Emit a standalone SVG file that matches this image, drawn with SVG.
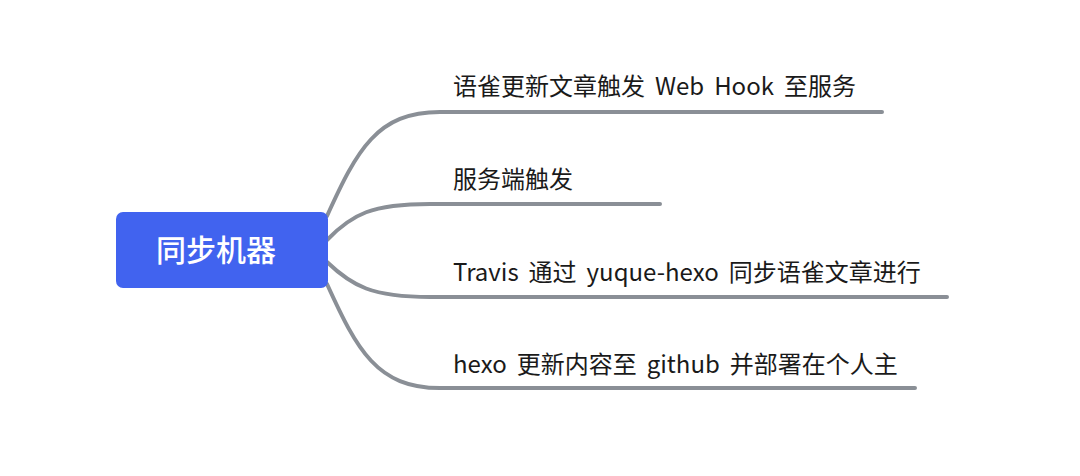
<svg xmlns="http://www.w3.org/2000/svg" width="1080" height="476" viewBox="0 0 1080 476">
<style>
.edge{fill:none;stroke:#8a8f96;stroke-width:4;stroke-linecap:round}
.lbl{font-family:"Noto Sans CJK SC","Noto Sans",sans-serif;font-size:24px;fill:#1a1a1a;font-weight:400;word-spacing:4.6px}
.root{font-family:"Noto Sans CJK SC",sans-serif;font-size:30px;fill:#ffffff;font-weight:500}
</style>
<rect width="1080" height="476" fill="#ffffff"/>
<g id="connectors">
<path class="edge" d="M327,216 C357,150 377,112 440,112 H882"/>
<path class="edge" d="M327,240 C352,214 372,204 430,204 H660"/>
<path class="edge" d="M327,262 C352,286 372,297 430,297 H947"/>
<path class="edge" d="M327,284 C357,350 377,388 440,388 H915"/>
</g>
<g id="root">
<rect x="116" y="212" width="212" height="76" rx="7" fill="#4163ef"/>
<text class="root" x="216" y="261" text-anchor="middle">同步机器</text>
</g>
<g id="n1"><text class="lbl" x="453" y="95">语雀更新文章触发 Web Hook 至服务</text></g>
<g id="n2"><text class="lbl" x="453" y="188">服务端触发</text></g>
<g id="n3"><text class="lbl" x="453" y="281">Travis 通过 yuque-hexo 同步语雀文章进行</text></g>
<g id="n4"><text class="lbl" x="453" y="373">hexo 更新内容至 github 并部署在个人主</text></g>
</svg>
